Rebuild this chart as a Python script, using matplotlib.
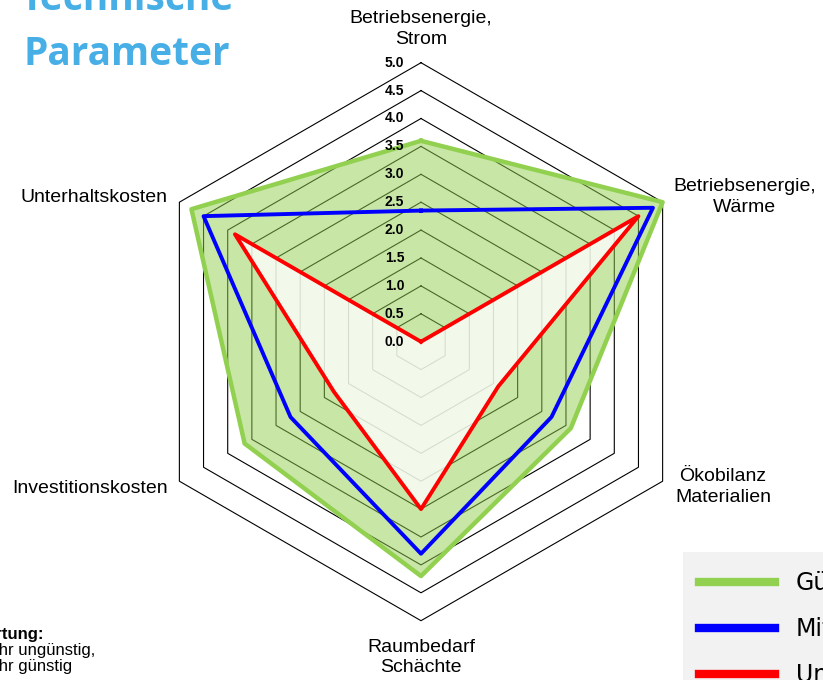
import numpy as np
import matplotlib.pyplot as plt
from matplotlib.lines import Line2D
from matplotlib.patches import Rectangle

plt.rcParams['font.family'] = ['Liberation Sans', 'DejaVu Sans']

categories = ['Betriebsenergie,\nStrom', 'Betriebsenergie,\nWärme', 'Ökobilanz\nMaterialien',
              'Raumbedarf\nSchächte', 'Investitionskosten', 'Unterhaltskosten']
guenstig = [3.6, 5.0, 3.1, 4.2, 3.65, 4.75]
mittel = [2.35, 4.8, 2.7, 3.8, 2.7, 4.5]
unguenstig = [0.0, 4.5, 1.6, 3.0, 1.8, 3.85]
levels = np.arange(0, 5.01, 0.5)
series_names = ['Günstig', 'Mittel', 'Ungünstig']

GREEN = '#92d050'
BLUE = '#0000ff'
RED = '#ff0000'

n = len(categories)
angles = np.linspace(0, 2 * np.pi, n, endpoint=False)
ang = np.append(angles, angles[0])


def closed(v):
    return np.append(v, v[0])


fig = plt.figure(figsize=(8.23, 6.8), dpi=100)
ax = fig.add_axes([142 / 823, 59.3 / 680, 558 / 823, 558 / 680], projection='polar')
ax.set_theta_offset(np.pi / 2)
ax.set_theta_direction(-1)
ax.set_ylim(0, 5)
ax.grid(False)
ax.set_xticks([])
ax.set_yticks([])
ax.spines['polar'].set_visible(False)
ax.patch.set_alpha(0)

# hexagonal grid
for lv in levels[1:]:
    ax.plot(ang, [lv] * len(ang), color='black', lw=0.8, zorder=1, clip_on=False)

# fills: green area, the red polygon is whitened on top
ax.fill(ang, closed(guenstig), color=GREEN, alpha=0.5, lw=0, zorder=2, clip_on=False)
ax.fill(ang, closed(unguenstig), color='white', alpha=0.78, lw=0, zorder=3, clip_on=False)

ax.plot(ang, closed(guenstig), color=GREEN, lw=3.2, zorder=4, clip_on=False)
ax.plot(ang, closed(mittel), color=BLUE, lw=2.8, zorder=5, clip_on=False)
ax.plot(ang, closed(unguenstig), color=RED, lw=2.8, zorder=6, clip_on=False)

# radial scale labels
for lv in levels:
    ax.annotate(f'{lv:.1f}', xy=(0, lv), xytext=(-12, 0), textcoords='offset points',
                ha='right', va='center', fontsize=10, fontweight='bold', zorder=10,
                annotation_clip=False)

# category labels
label_style = [
    dict(xytext=(0, 24.5), ha='center'),
    dict(xytext=(59, 3.6), ha='center'),
    dict(xytext=(43.5, -4.5), ha='center'),
    dict(xytext=(0, -26.5), ha='center'),
    dict(xytext=(-8.2, -4.9), ha='right'),
    dict(xytext=(-8.2, 3.6), ha='right'),
]
for a, cat, st in zip(angles, categories, label_style):
    ax.annotate(cat, xy=(a, 5), textcoords='offset points', va='center', ma='center',
                fontsize=14, linespacing=1.3, annotation_clip=False, **st)

# title
fig.text(127 / 823, 1 - 10 / 680, 'Technische', ha='center', va='baseline', fontsize=28,
         fontweight='bold', color='#47afe6', family='Open Sans')
fig.text(127 / 823, 1 - 65 / 680, 'Parameter', ha='center', va='baseline', fontsize=28,
         fontweight='bold', color='#47afe6', family='Open Sans')

# rating note
fig.text(-47 / 823, 1 - 634 / 680, 'Bewertung:', ha='left', va='center', fontsize=12,
         fontweight='bold')
fig.text(-47 / 823, 1 - 650 / 680, '0 = sehr ungünstig,', ha='left', va='center', fontsize=12)
fig.text(-47 / 823, 1 - 666 / 680, '5 = sehr günstig', ha='left', va='center', fontsize=12)

# legend on a grey panel running off the lower right corner
fig.add_artist(Rectangle((683 / 823, 0), 1, (680 - 552) / 680, transform=fig.transFigure,
                         facecolor='#f2f2f2', edgecolor='none', zorder=0))
handles = [Line2D([], [], color=c, lw=6) for c in (GREEN, BLUE, RED)]
leg = fig.legend(handles, series_names, loc='center left', bbox_to_anchor=(699 / 823, 1 - 629 / 680),
                 frameon=False, borderaxespad=0, borderpad=0, handlelength=3.2,
                 handletextpad=0.9, labelspacing=0.93, prop=dict(family='DejaVu Sans', size=17))

fig.savefig('out.png', dpi=100)
